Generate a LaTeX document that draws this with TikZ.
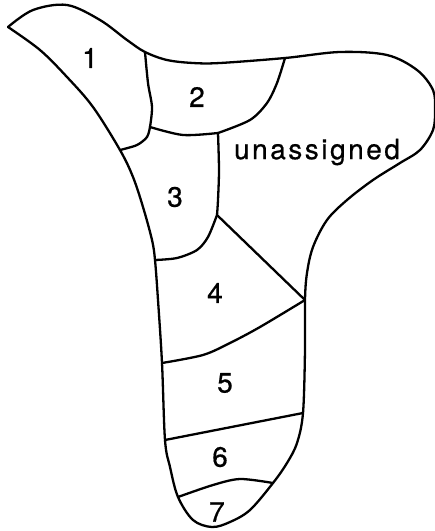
\documentclass[tikz,border=0pt]{standalone}
\usepackage{fontspec}
\setmainfont{TeX Gyre Heros}[FakeBold=0.6]

\begin{document}
\begin{tikzpicture}[x=1pt,y=-1pt,line width=2.3pt,line join=round,line cap=round]

        \useasboundingbox (0,0) rectangle (435,531);

        % junctions of the region boundaries
        \coordinate (tip)  at (8,27);
        \coordinate (t12)  at (145,52);
        \coordinate (m123) at (150,127);
        \coordinate (l13)  at (120,150);
        \coordinate (t2u)  at (285,58);
        \coordinate (m23u) at (218,133);
        \coordinate (m34u) at (217,215);
        \coordinate (l34)  at (155,260);
        \coordinate (r45)  at (305,300);
        \coordinate (l45)  at (162,363);
        \coordinate (r56)  at (303,413);
        \coordinate (l56)  at (165,440);
        \coordinate (r67)  at (273,483);
        \coordinate (l67)  at (178,497);

        % outline
        \draw plot[smooth,tension=.55] coordinates {
          (tip) (33,10) (67,5) (100,20) (127,40) (t12) (167,60) (193,63)
          (220,63) (t2u) (340,52) (387,55) (417,70) (433,90) (435,110)
          (433,130) (420,150) (400,163) (373,180) (347,200) (327,220)
          (313,247) (307,273) (r45) (305,350) (r56) (297,443) (287,463)
          (r67) (250,510) (230,522) (212,527) (193,520) (l67) (170,467)
          (l56) (l45) (158,300) (l34) (152,240) (143,207) (133,177)
          (l13) (93,107) (67,77) (40,50) (tip)};

        % inner boundaries
        \draw plot[smooth] coordinates {(t12) (148,83) (152,107) (m123)};
        \draw plot[smooth] coordinates {(m123) (147,137) (137,145) (l13)};
        \draw plot[smooth] coordinates {(m123) (183,135) (m23u)};
        \draw plot[smooth] coordinates {(m23u) (250,120) (267,103) (277,83) (t2u)};
        \draw plot[smooth] coordinates {(m23u) (219,170) (218,200) (m34u)};
        \draw plot[smooth] coordinates {(m34u) (208,237) (197,250) (177,258) (l34)};
        \draw (m34u) -- (r45);
        \draw plot[smooth] coordinates {(r45) (260,327) (230,343) (203,355) (l45)};
        \draw (l56) -- (r56);
        \draw plot[smooth] coordinates {(l67) (213,485) (240,479) (r67)};

        \begin{scope}[every node/.style={font=\fontsize{28}{30}\selectfont,inner sep=0pt}]
          \node (1) at (90,58)   {1};
          \node (2) at (197,97)  {2};
          \node (3) at (175,197) {3};
          \node (4) at (215,293) {4};
          \node (5) at (225,383) {5};
          \node (6) at (220,457) {6};
          \node (7) at (217,512) {7};
          \node (u) at (317,152) {\addfontfeature{LetterSpace=9}unassigned};
        \end{scope}

      \end{tikzpicture}
\end{document}
